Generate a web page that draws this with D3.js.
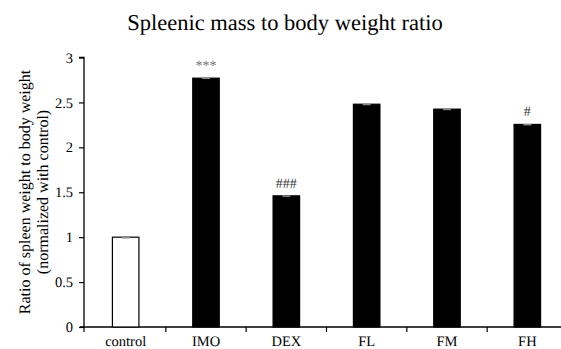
<!DOCTYPE html>
<html><head><meta charset="utf-8">
<script src="https://cdn.jsdelivr.net/npm/d3@7"></script>
<style>html,body{margin:0;padding:0;background:#fff;overflow:hidden}
svg text{font-family:"Liberation Serif","Times New Roman",serif;text-rendering:geometricPrecision;}</style>
</head><body>
<svg id="c" width="561" height="349"></svg>
<script>
const categories = ["control","IMO","DEX","FL","FM","FH"];
const values = [1.0, 2.77, 1.46, 2.48, 2.425, 2.255];
const errors = [0.005, 0.01, 0.008, 0.008, 0.008, 0.008];
const fills = ["#fff","#000","#000","#000","#000","#000"];
const marks = ["","***","###","","","#"];
const yTicks = [0,0.5,1,1.5,2,2.5,3];

const svg = d3.select("#c");
const FF = '"Liberation Serif", "Times New Roman", serif';
const x = d3.scaleBand().domain(categories).range([85.5, 567.5]).paddingInner(0.67).paddingOuter(0.335);
const xb = d3.scaleBand().domain(categories).range([85.5, 567.5]);
const y = d3.scaleLinear().domain([0,3]).range([327, 57.5]);

svg.append("text").attr("x", 285).attr("y", 30).attr("text-anchor","middle")
  .style("font-family", FF).style("font-size", "22.5px").attr("fill","#000")
  .text("Spleenic mass to body weight ratio");

// y axis
const ya = svg.append("g").attr("transform","translate(84,0)")
  .call(d3.axisLeft(y).tickValues(yTicks).tickSize(5).tickFormat(d3.format("")));
ya.attr("font-family", null);
ya.select(".domain").attr("stroke","#000").attr("stroke-width",1.3).attr("d","M-5,57.5H0V327");
ya.selectAll(".tick line").attr("stroke","#000").attr("stroke-width",1.2);
ya.selectAll(".tick text").style("font-family", FF).style("font-size", "14.5px").attr("fill","#000").attr("x",-11);

// x axis
const xa = svg.append("g").attr("transform","translate(0,327)")
  .call(d3.axisBottom(xb).tickSize(0).tickSizeOuter(0));
xa.attr("font-family", null);
xa.select(".domain").attr("stroke","#000").attr("stroke-width",1.3).attr("d","M80,0H561");
xa.selectAll(".tick text").style("font-family", FF).style("font-size", "14.5px").attr("fill","#000").attr("y", 9);
// x separators (including start of axis)
svg.append("g").selectAll("line").data(categories).join("line")
  .attr("x1", d => xb(d) - (d === categories[0] ? 1.5 : 0)).attr("x2", d => xb(d) - (d === categories[0] ? 1.5 : 0))
  .attr("y1", 327).attr("y2", 332)
  .attr("stroke","#000").attr("stroke-width",1.2);

// bars
svg.append("g").selectAll("rect").data(categories).join("rect")
  .attr("x", d => x(d)).attr("width", x.bandwidth())
  .attr("y", (d,i) => y(values[i])).attr("height", (d,i) => y(0) - y(values[i]))
  .attr("fill", (d,i) => fills[i]).attr("stroke","#000").attr("stroke-width",1.2);

// error caps
svg.append("g").selectAll("line").data(categories).join("line")
  .attr("x1", d => x(d) + x.bandwidth()/2 - 4).attr("x2", d => x(d) + x.bandwidth()/2 + 4)
  .attr("y1", (d,i) => y(values[i] + errors[i]) + 1).attr("y2", (d,i) => y(values[i] + errors[i]) + 1)
  .attr("stroke","#888").attr("stroke-width",1.5);

// significance marks
svg.append("g").selectAll("text").data(categories).join("text")
  .attr("x", d => x(d) + x.bandwidth()/2).attr("y", (d,i) => y(values[i]) - 8)
  .attr("text-anchor","middle").style("font-family", FF).style("font-size", "14px")
  .attr("fill", (d,i) => marks[i].startsWith("*") ? "#777" : "#333")
  .text((d,i) => marks[i]);

// y label
const yl = svg.append("text").attr("transform","translate(0,192) rotate(-90)")
  .attr("text-anchor","middle").style("font-family", FF).style("font-size", "16px").attr("fill","#000");
yl.append("tspan").attr("x",0).attr("y",30).text("Ratio of spleen weight to body weight");
yl.append("tspan").attr("x",0).attr("y",48).text("(normalized with control)");
</script>
</body></html>
